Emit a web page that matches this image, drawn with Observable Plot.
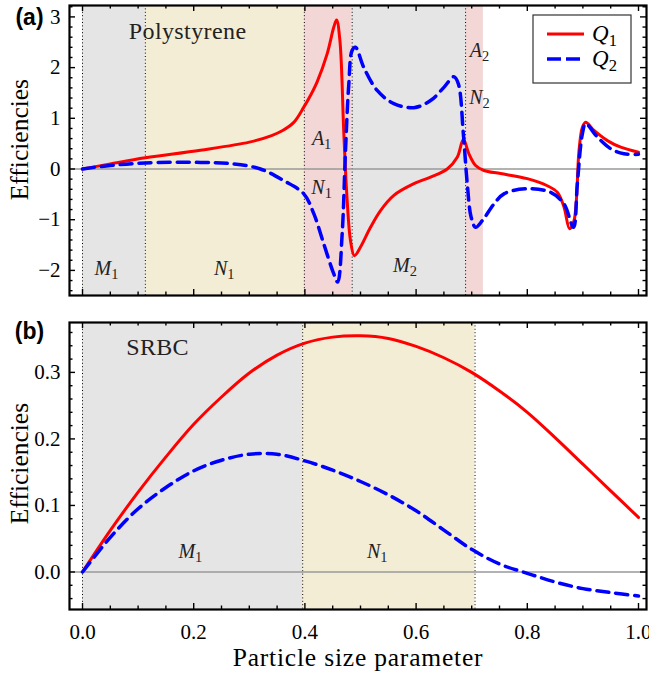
<!DOCTYPE html>
<html><head><meta charset="utf-8">
<script src="https://cdn.jsdelivr.net/npm/d3@7"></script>
<script src="https://cdn.jsdelivr.net/npm/@observablehq/plot@0.6"></script>
<style>
body{margin:0;background:#fff}
#wrap{position:relative;width:649px;height:677px;overflow:hidden;background:#fff}
#wrap svg{position:absolute;left:0}
</style>
</head><body><div id="wrap"></div>
<script>
// ---------------- DATA ----------------
// Panel (a): Polystyrene
const aQ1x = [0,0.05,0.113,0.212,0.3,0.34,0.36,0.38,0.398,0.41,0.422,0.44,0.452,0.457,0.463,0.47,0.476,0.482,0.489,0.5,0.518,0.536,0.56,0.596,0.626,0.656,0.674,0.685,0.695,0.707,0.722,0.752,0.8,0.836,0.854,0.866,0.876,0.884,0.893,0.899,0.905,0.92,0.944,0.968,1.0];
const aQ1y = [0,0.1,0.22,0.37,0.53,0.66,0.76,0.92,1.22,1.45,1.72,2.27,2.8,2.94,2.53,0.7,-0.62,-1.41,-1.71,-1.54,-1.15,-0.82,-0.52,-0.29,-0.16,0.0,0.23,0.58,0.3,0.07,-0.03,-0.09,-0.19,-0.33,-0.46,-0.75,-1.18,-1.02,0.36,0.82,0.92,0.76,0.56,0.43,0.33];
const aQ2x = [0,0.05,0.113,0.212,0.272,0.32,0.362,0.398,0.416,0.434,0.452,0.459,0.467,0.473,0.479,0.485,0.491,0.506,0.53,0.56,0.596,0.626,0.65,0.668,0.676,0.685,0.692,0.699,0.707,0.719,0.74,0.758,0.8,0.842,0.866,0.883,0.89,0.899,0.905,0.926,0.95,0.974,1.0];
const aQ2y = [0,0.07,0.12,0.13,0.1,0.0,-0.23,-0.49,-0.88,-1.48,-2.07,-2.23,-1.28,0.36,1.68,2.34,2.4,2.0,1.55,1.29,1.21,1.35,1.61,1.82,1.68,0.69,-0.29,-0.95,-1.15,-1.02,-0.69,-0.49,-0.39,-0.46,-0.69,-1.15,-0.29,0.69,0.89,0.63,0.4,0.3,0.29];
const aBandStart = [0,0.113,0.399,0.485,0.689];
const aBandEnd   = [0.113,0.399,0.485,0.689,0.721];
const aBandKind  = ["M","N","A","M","A"];
const aDividers  = [0,0.113,0.399,0.485,0.689];
const aLabelText = ["M_1","N_1","A_1","N_1","M_2","A_2","N_2"];
const aLabelX    = [0.043,0.255,0.43,0.43,0.58,0.714,0.714];
const aLabelY    = [-1.96,-1.96,0.6,-0.36,-1.9,2.34,1.41];
const aYTicks    = [-2,-1,0,1,2,3];

// Panel (b): SRBC
const bX  = [0,0.05,0.1,0.15,0.2,0.25,0.3,0.35,0.4,0.45,0.5,0.55,0.6,0.65,0.7,0.75,0.8,0.85,0.9,0.95,1.0];
const bQ1 = [0,0.0625,0.12,0.173,0.222,0.263,0.299,0.326,0.344,0.353,0.355,0.351,0.339,0.322,0.3,0.272,0.24,0.202,0.162,0.122,0.082];
const bQ2 = [0,0.052,0.095,0.127,0.152,0.168,0.177,0.177,0.167,0.153,0.136,0.116,0.092,0.063,0.034,0.012,-0.002,-0.015,-0.025,-0.031,-0.036];
const bBandStart = [0,0.396];
const bBandEnd   = [0.396,0.706];
const bBandKind  = ["M","N"];
const bDividers  = [0,0.396,0.706];
const bLabelText = ["M_1","N_1"];
const bLabelX    = [0.194,0.53];
const bLabelY    = [0.03,0.03];
const bYTicks    = [0,0.1,0.2,0.3];
const xTicks     = [0,0.2,0.4,0.6,0.8,1.0];

const seriesNames = ["Q_1","Q_2"];

// ---------------- BUILD ----------------
const W = 649;
const serif = "Liberation Serif";
const sans = "Liberation Sans";
const xDomain = [-0.0234, 1.0144];
const bandColor = {domain:["M","N","A"], range:["#e5e5e5","#f4edd6","#f3d6d6"]};
const zip = (xs, ys) => xs.map((x,i)=>({x, y: ys[i]}));
const bands = (s,e,k) => s.map((v,i)=>({x1:v, x2:e[i], kind:k[i]}));
const labels = (t,x,y) => t.map((v,i)=>({text:v, x:x[i], y:y[i]}));
const ns = "http://www.w3.org/2000/svg";
const minus = d => (d < 0 ? "\u2212" : "") + Math.abs(d);
const spacing = {"Particle size parameter": "0.8px", "Polystyrene": "0.4px", "SRBC": "0.3px"};

function subs(svg){
  svg.querySelectorAll("text").forEach(t=>{
    const s = t.textContent;
    if (spacing[s]) t.style.letterSpacing = spacing[s];
    const m = /^([A-Za-z])_(\d)$/.exec(s);
    if(!m) return;
    t.textContent = "";
    const a = document.createElementNS(ns,"tspan"); a.textContent = m[1]; a.setAttribute("font-style","italic");
    const b = document.createElementNS(ns,"tspan"); b.textContent = m[2]; b.setAttribute("font-style","normal");
    b.setAttribute("font-size","0.72em"); b.setAttribute("dy","0.28em");
    t.append(a,b);
  });
}

function frameTicks(major, minor, axis, plotLen, majLen=6, minLen=3.5){
  const out = [];
  const sw = 1.4;
  if(axis === "x"){
    out.push(Plot.ruleX(major, {x: d=>d, insetTop: plotLen-majLen, stroke:"black", strokeWidth:sw}));
    out.push(Plot.ruleX(major, {x: d=>d, insetBottom: plotLen-majLen, stroke:"black", strokeWidth:sw}));
    out.push(Plot.ruleX(minor, {x: d=>d, insetTop: plotLen-minLen, stroke:"black", strokeWidth:sw}));
    out.push(Plot.ruleX(minor, {x: d=>d, insetBottom: plotLen-minLen, stroke:"black", strokeWidth:sw}));
  } else {
    out.push(Plot.ruleY(major, {y: d=>d, insetRight: plotLen-majLen, stroke:"black", strokeWidth:sw}));
    out.push(Plot.ruleY(major, {y: d=>d, insetLeft: plotLen-majLen, stroke:"black", strokeWidth:sw}));
    out.push(Plot.ruleY(minor, {y: d=>d, insetRight: plotLen-minLen, stroke:"black", strokeWidth:sw}));
    out.push(Plot.ruleY(minor, {y: d=>d, insetLeft: plotLen-minLen, stroke:"black", strokeWidth:sw}));
  }
  return out;
}

const ML = 69, MR = 3;
const plotW = W - ML - MR;
const xMinor = d3.range(0, 1.0001, 0.05).filter(v => Math.abs(v/0.2 - Math.round(v/0.2)) > 1e-6);

// Panel (a)
const aH = 305, aMT = 5, aMB = 10, aPH = aH - aMT - aMB;
const aMinorY = d3.range(-2.4, 3.21, 0.2).filter(v => Math.abs(v - Math.round(v)) > 1e-6);
const plotA = Plot.plot({
  width: W, height: aH, marginLeft: ML, marginRight: MR, marginTop: aMT, marginBottom: aMB,
  x: {domain: xDomain, axis: null},
  y: {domain: [-2.495, 3.225], axis: null},
  color: bandColor,
  style: {fontFamily: serif, background: "transparent", overflow: "visible"},
  marks: [
    Plot.rect(bands(aBandStart, aBandEnd, aBandKind), {x1:"x1", x2:"x2", y1: -2.495, y2: 3.225, fill:"kind"}),
    Plot.ruleX(aDividers, {x: d=>d, stroke:"black", strokeWidth:1, strokeDasharray:"1,2.4"}),
    Plot.ruleY([0], {stroke:"#999", strokeWidth:1.3}),
    Plot.line(zip(aQ1x, aQ1y), {x:"x", y:"y", stroke:"#ff0000", strokeWidth:3, curve:"catmull-rom"}),
    Plot.line(zip(aQ2x, aQ2y), {x:"x", y:"y", stroke:"#0000ff", strokeWidth:3.5, strokeDasharray:"12,7", curve:"catmull-rom"}),
    ...frameTicks(xTicks, xMinor, "x", aPH),
    ...frameTicks(aYTicks, aMinorY, "y", plotW),
    Plot.frame({stroke:"black", strokeWidth:2.2}),
    Plot.axisY({ticks: aYTicks, tickSize:0, tickPadding:9, fontSize:21, label:null, fontFamily: serif, tickFormat: minus}),
    Plot.text(["Polystyrene"], {x: 0.189, y: 2.71, text: d=>d, fontSize: 24, fill:"#222", fontFamily: serif}),
    Plot.text(labels(aLabelText, aLabelX, aLabelY), {x:"x", y:"y", text:"text", fontSize:20, fill:"#222", fontFamily: serif}),
    Plot.text(["Efficiencies"], {frameAnchor:"left", y: 0.58, dx:-50, rotate:-90, textAnchor:"middle", lineAnchor:"middle", text:d=>d, fontSize:25.5, fontFamily: serif}),
    Plot.text(["(a)"], {frameAnchor:"top-left", dx:-40, dy:12, textAnchor:"middle", lineAnchor:"middle", text:d=>d, fontSize:23, fontWeight:"bold", fontFamily: sans})
  ]
});
plotA.style.top = "0px";
subs(plotA);

// Panel (b)
const bTop = 305, bH = 372, bMT = 17, bMB = 68, bPH = bH - bMT - bMB;
const bMinorY = d3.range(-0.04, 0.3701, 0.02).filter(v => Math.abs(v*10 - Math.round(v*10)) > 1e-6);
const plotB = Plot.plot({
  width: W, height: bH, marginLeft: ML, marginRight: MR, marginTop: bMT, marginBottom: bMB,
  x: {domain: xDomain, axis: null},
  y: {domain: [-0.0564, 0.375], axis: null},
  color: bandColor,
  style: {fontFamily: serif, background: "transparent", overflow: "visible"},
  marks: [
    Plot.rect(bands(bBandStart, bBandEnd, bBandKind), {x1:"x1", x2:"x2", y1: -0.0564, y2: 0.375, fill:"kind"}),
    Plot.ruleX(bDividers, {x: d=>d, stroke:"black", strokeWidth:1, strokeDasharray:"1,2.4"}),
    Plot.ruleY([0], {stroke:"#999", strokeWidth:1.3}),
    Plot.line(zip(bX, bQ1), {x:"x", y:"y", stroke:"#ff0000", strokeWidth:3, curve:"catmull-rom"}),
    Plot.line(zip(bX, bQ2), {x:"x", y:"y", stroke:"#0000ff", strokeWidth:3.5, strokeDasharray:"12,7", curve:"catmull-rom"}),
    ...frameTicks(xTicks, xMinor, "x", bPH),
    ...frameTicks(bYTicks, bMinorY, "y", plotW),
    Plot.frame({stroke:"black", strokeWidth:2.2}),
    Plot.axisY({ticks: bYTicks, tickSize:0, tickPadding:9, fontSize:21, label:null, tickFormat: d3.format(".1f"), fontFamily: serif}),
    Plot.axisX({ticks: xTicks, tickSize:0, tickPadding:15, fontSize:21, label:null, tickFormat: d3.format(".1f"), fontFamily: serif}),
    Plot.text(["SRBC"], {x: 0.135, y: 0.337, text: d=>d, fontSize: 24, fill:"#222", fontFamily: serif}),
    Plot.text(labels(bLabelText, bLabelX, bLabelY), {x:"x", y:"y", text:"text", fontSize:20, fill:"#222", fontFamily: serif}),
    Plot.text(["Efficiencies"], {frameAnchor:"left", y: 0.163, dx:-50, rotate:-90, textAnchor:"middle", lineAnchor:"middle", text:d=>d, fontSize:25.5, fontFamily: serif}),
    Plot.text(["Particle size parameter"], {frameAnchor:"bottom", dy:48, textAnchor:"middle", lineAnchor:"middle", text:d=>d, fontSize:25.5, fontFamily: serif}),
    Plot.text(["(b)"], {frameAnchor:"top-left", dx:-40, dy:9, textAnchor:"middle", lineAnchor:"middle", text:d=>d, fontSize:23, fontWeight:"bold", fontFamily: sans})
  ]
});
plotB.style.top = bTop + "px";
subs(plotB);

const wrap = document.getElementById("wrap");
wrap.append(plotA, plotB);

// Legend (panel a, top-right)
const leg = document.createElementNS(ns, "svg");
leg.setAttribute("width", 100); leg.setAttribute("height", 70);
leg.style.left = "532px"; leg.style.top = "14px";
leg.innerHTML = `
  <rect x="1" y="1" width="98" height="68" fill="white" stroke="#333" stroke-width="1.2"/>
  <line x1="15" x2="52" y1="20" y2="20" stroke="#ff0000" stroke-width="3"/>
  <line x1="15" x2="50" y1="45" y2="45" stroke="#0000ff" stroke-width="3.5" stroke-dasharray="14,5"/>
  <text x="60" y="27" font-family="${serif}" font-size="23"><tspan font-style="italic">${seriesNames[0][0]}</tspan><tspan font-size="0.72em" dy="0.28em">${seriesNames[0][2]}</tspan></text>
  <text x="60" y="52" font-family="${serif}" font-size="23"><tspan font-style="italic">${seriesNames[1][0]}</tspan><tspan font-size="0.72em" dy="0.28em">${seriesNames[1][2]}</tspan></text>`;
wrap.append(leg);
</script></body></html>
